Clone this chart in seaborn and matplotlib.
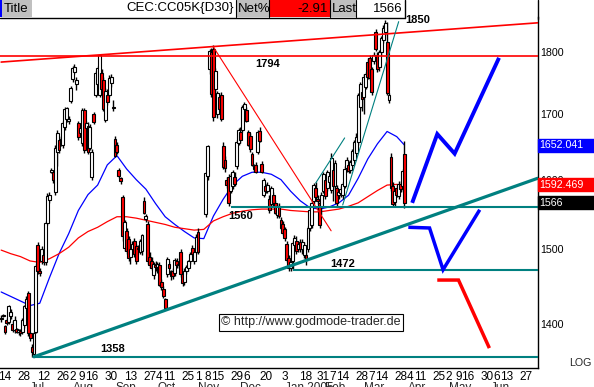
"""Cocoa CEC:CC05K daily candles with hand-drawn trend lines (GodmodeTrader style)."""
import numpy as np
import pandas as pd
import matplotlib
matplotlib.use("Agg")
import matplotlib.pyplot as plt
import matplotlib.transforms as mtransforms
from matplotlib.patches import Rectangle
from matplotlib.ticker import NullLocator
import seaborn as sns

# ---------------------------------------------------------------------------
# Data
# ---------------------------------------------------------------------------
AXIS_START = "2004-06-14"      # weekday index 0 of the chart's x axis
CANDLE_START = "2004-06-10"    # first visible bar

opens = [
    1408, 1411, 1397, 1405, 1403, 1410, 1400, 1392, 1393, 1390, 1391, 1390, 1398, 1421, 1440, 1388,
    1370, 1362, 1390, 1506, 1470, 1484, 1492, 1482, 1537, 1570, 1612, 1611, 1582, 1642, 1660, 1662,
    1652, 1680, 1692, 1690, 1721, 1757, 1768, 1748, 1686, 1670, 1655, 1706, 1678, 1682, 1648, 1604,
    1700, 1731, 1748, 1731, 1766, 1755, 1691, 1730, 1731, 1750, 1712, 1662, 1652, 1614, 1602, 1574,
    1502, 1526, 1514, 1490, 1500, 1512, 1504, 1500, 1497, 1498, 1569, 1543, 1535, 1490, 1484, 1465,
    1478, 1476, 1478, 1456, 1446, 1432, 1466, 1480, 1463, 1470, 1468, 1484, 1478, 1496, 1466, 1456,
    1470, 1474, 1484, 1502, 1484, 1496, 1524, None, None, None, 1550, 1606, 1772, 1800, 1805, 1740,
    1700, 1728, 1730, 1651, 1630, 1600, 1604, 1584, 1590, 1604, 1621, 1655, 1672, 1676, 1708, 1706,
    1672, 1666, 1638, 1620, 1622, 1642, 1674, 1624, 1577, 1590, 1584, 1572, 1564, 1577, 1566, 1548,
    1562, 1542, 1536, 1528, 1508, 1488, 1474, 1484, 1506, 1512, 1500, 1510, 1500, 1492, 1492, 1500,
    1530, 1534, 1568, 1588, 1572, 1566, 1560, 1584, 1600, 1588, 1596, 1585, 1614, 1590, 1588, 1578,
    1580, 1577, 1591, 1618, 1622, 1614, 1622, 1630, 1640, 1657, 1712, 1735, 1728, 1744, 1784, 1790,
    1772, 1786, 1834, 1796, 1776, 1800, 1820, 1835, 1818, 1723, 1634, 1590, 1567, 1588, 1576, 1594,
    1590, 1638,
]
highs = [
    1412, 1413, 1399, 1408, 1425, 1420, 1404, 1410, 1395, 1394, 1393, 1408, 1425, 1436, 1443, 1390,
    1374, 1390, 1480, 1510, 1474, 1504, 1496, 1540, 1580, 1582, 1618, 1614, 1652, 1675, 1664, 1666,
    1690, 1712, 1712, 1697, 1745, 1778, 1780, 1760, 1690, 1684, 1710, 1710, 1690, 1687, 1684, 1646,
    1704, 1770, 1778, 1798, 1772, 1760, 1742, 1740, 1762, 1764, 1722, 1666, 1656, 1618, 1604, 1578,
    1542, 1530, 1518, 1506, 1512, 1516, 1508, 1506, 1514, 1522, 1575, 1550, 1540, 1496, 1490, 1482,
    1484, 1482, 1482, 1460, 1450, 1434, 1490, 1484, 1472, 1474, 1488, 1488, 1482, 1500, 1468, 1474,
    1478, 1486, 1496, 1506, 1500, 1522, 1530, None, None, None, 1612, 1652, 1806, 1808, 1812, 1775,
    1737, 1734, 1735, 1656, 1636, 1604, 1608, 1610, 1614, 1612, 1660, 1678, 1680, 1715, 1720, 1712,
    1676, 1670, 1642, 1624, 1626, 1676, 1680, 1628, 1602, 1594, 1596, 1578, 1590, 1582, 1570, 1566,
    1566, 1546, 1540, 1532, 1512, 1492, 1486, 1512, 1520, 1518, 1512, 1514, 1514, 1510, 1496, 1533,
    1560, 1570, 1595, 1596, 1578, 1570, 1582, 1612, 1604, 1614, 1610, 1640, 1620, 1630, 1592, 1586,
    1590, 1596, 1620, 1634, 1628, 1630, 1646, 1660, 1670, 1734, 1752, 1742, 1764, 1768, 1790, 1796,
    1776, 1800, 1840, 1800, 1804, 1828, 1846, 1854, 1852, 1734, 1640, 1596, 1588, 1592, 1598, 1598,
    1616, 1659,
]
lows = [
    1403, 1409, 1387, 1398, 1400, 1406, 1390, 1388, 1388, 1386, 1384, 1387, 1395, 1418, 1385, 1378,
    1358, 1358, 1388, 1466, 1464, 1480, 1478, 1479, 1534, 1566, 1610, 1595, 1578, 1620, 1640, 1650,
    1648, 1675, 1688, 1684, 1718, 1752, 1764, 1738, 1660, 1666, 1650, 1640, 1670, 1638, 1644, 1600,
    1684, 1728, 1744, 1728, 1736, 1705, 1688, 1715, 1728, 1744, 1705, 1634, 1638, 1603, 1594, 1512,
    1498, 1494, 1484, 1480, 1496, 1490, 1480, 1496, 1494, 1492, 1550, 1538, 1480, 1474, 1472, 1460,
    1470, 1468, 1450, 1444, 1434, 1418, 1462, 1470, 1458, 1460, 1464, 1474, 1474, 1462, 1450, 1452,
    1466, 1470, 1480, 1492, 1480, 1494, 1494, None, None, None, 1546, 1600, 1765, 1728, 1690, 1735,
    1694, 1705, 1690, 1616, 1612, 1588, 1562, 1580, 1586, 1590, 1616, 1652, 1655, 1672, 1696, 1688,
    1650, 1642, 1620, 1612, 1610, 1638, 1656, 1610, 1574, 1580, 1580, 1552, 1560, 1562, 1550, 1544,
    1544, 1528, 1520, 1512, 1482, 1470, 1470, 1472, 1500, 1494, 1496, 1496, 1494, 1488, 1478, 1496,
    1526, 1530, 1565, 1570, 1564, 1530, 1548, 1580, 1572, 1584, 1590, 1580, 1568, 1586, 1560, 1572,
    1575, 1572, 1588, 1612, 1610, 1610, 1618, 1626, 1636, 1652, 1708, 1705, 1700, 1740, 1756, 1755,
    1730, 1780, 1802, 1768, 1770, 1796, 1816, 1830, 1730, 1718, 1584, 1560, 1562, 1574, 1572, 1582,
    1584, 1559,
]
closes = [
    1406, 1410, 1389, 1401, 1423, 1416, 1392, 1405, 1390, 1392, 1388, 1405, 1423, 1432, 1388, 1382,
    1364, 1388, 1477, 1470, 1467, 1501, 1482, 1537, 1576, 1577, 1615, 1599, 1648, 1671, 1645, 1654,
    1686, 1708, 1709, 1693, 1742, 1775, 1776, 1755, 1664, 1678, 1706, 1645, 1686, 1641, 1680, 1642,
    1688, 1766, 1774, 1795, 1740, 1708, 1737, 1720, 1758, 1760, 1710, 1636, 1641, 1606, 1598, 1518,
    1538, 1498, 1488, 1500, 1508, 1494, 1484, 1502, 1511, 1520, 1552, 1547, 1484, 1478, 1475, 1480,
    1476, 1480, 1452, 1448, 1437, 1421, 1487, 1474, 1470, 1463, 1486, 1478, 1480, 1466, 1454, 1470,
    1476, 1484, 1493, 1494, 1496, 1517, 1497, None, None, None, 1610, 1650, 1802, 1732, 1696, 1770,
    1734, 1708, 1692, 1619, 1618, 1592, 1566, 1606, 1611, 1594, 1657, 1675, 1660, 1711, 1716, 1690,
    1652, 1646, 1622, 1616, 1612, 1672, 1658, 1612, 1599, 1584, 1592, 1555, 1587, 1566, 1552, 1562,
    1547, 1530, 1523, 1516, 1486, 1474, 1482, 1509, 1516, 1498, 1508, 1500, 1510, 1506, 1486, 1530,
    1556, 1566, 1592, 1574, 1568, 1534, 1578, 1609, 1576, 1611, 1606, 1632, 1590, 1625, 1566, 1582,
    1586, 1593, 1616, 1630, 1613, 1626, 1643, 1656, 1665, 1730, 1748, 1724, 1760, 1764, 1760, 1758,
    1736, 1796, 1805, 1772, 1800, 1825, 1842, 1850, 1733, 1731, 1587, 1564, 1584, 1578, 1594, 1586,
    1613, 1566,
]

# moving averages, read every 5th bar plus the last one
ma_every = 5
ma_fast = [
    1442, 1436, 1430, 1424, 1427, 1461, 1494, 1522, 1555, 1578, 1592, 1622, 1636, 1616, 1600, 1586,
    1565, 1546, 1535, 1525, 1516, 1515, 1547, 1571, 1592, 1605, 1611, 1611, 1608, 1600, 1583, 1569,
    1559, 1557, 1560, 1566, 1577, 1602, 1631, 1654, 1673, 1665, 1652,
]
ma_slow = [
    1499, 1494, 1490, 1484, 1482, 1487, 1494, 1503, 1516, 1525, 1531, 1539, 1546, 1546, 1544, 1541,
    1538, 1535, 1531, 1529, 1527, 1528, 1540, 1546, 1551, 1554, 1556, 1557, 1557, 1557, 1555, 1554,
    1553, 1553, 1555, 1557, 1561, 1566, 1575, 1584, 1592, 1593, 1592,
]

# hand-drawn lines: (dates, prices)
resist_dates, resist_vals = ["2004-06-10", "2005-07-05"], [1784, 1850]
down_dates, down_vals = ["2004-11-11", "2005-02-04"], [1809, 1526]
fast_up_dates, fast_up_vals = ["2005-01-25", "2005-02-15"], [1595, 1663]
steep_up_dates, steep_up_vals = ["2005-02-14", "2005-03-25"], [1563, 1852]
support_dates, support_vals = ["2004-07-05", "2005-07-05"], [1358, 1602]
level_vals = [1560, 1472, 1358]
level_from = ["2004-11-24", "2005-01-07", "2004-07-05"]
red_level = 1794

fc_up_dates = ["2005-04-05", "2005-04-22", "2005-05-05", "2005-06-07"]
fc_up_vals = [1566, 1669, 1639, 1791]
fc_mid_dates = ["2005-04-01", "2005-04-18", "2005-04-27", "2005-05-24"]
fc_mid_vals = [1531, 1530, 1472, 1556]
fc_dn_dates = ["2005-04-22", "2005-05-09", "2005-05-31"]
fc_dn_vals = [1458, 1458, 1369]

level_text = ["1850", "1794", "1560", "1472", "1358"]
level_text_dates = ["2005-04-08", "2004-12-21", "2004-12-01", "2005-02-14", "2004-08-31"]
level_text_vals = [1855, 1781, 1547, 1480, 1368]

tag_vals = [1652.041, 1592.469, 1566]
tag_text = ["1652.041", "1592.469", "1566"]

price_ticks = [1400, 1500, 1600, 1700, 1800]
day_ticks = [
    "2004-06-14", "2004-06-28", "2004-07-12", "2004-07-26", "2004-08-02", "2004-08-09",
    "2004-08-16", "2004-08-30", "2004-09-13", "2004-09-27", "2004-10-04", "2004-10-11",
    "2004-10-25", "2004-11-01", "2004-11-08", "2004-11-15", "2004-11-29", "2004-12-06",
    "2004-12-20", "2005-01-03", "2005-01-18", "2005-01-31", "2005-02-07", "2005-02-14",
    "2005-02-28", "2005-03-07", "2005-03-14", "2005-03-28", "2005-04-04", "2005-04-11",
    "2005-04-25", "2005-05-02", "2005-05-09", "2005-05-16", "2005-05-30", "2005-06-06",
    "2005-06-13", "2005-06-27",
]
month_starts = [
    "2004-07-01", "2004-08-02", "2004-09-01", "2004-10-01", "2004-11-01", "2004-12-01",
    "2005-01-03", "2005-02-01", "2005-03-01", "2005-04-01", "2005-05-02", "2005-06-01",
]
month_names = ["Jul", "Aug", "Sep", "Oct", "Nov", "Dec", "Jan 2005", "Feb", "Mar", "Apr", "May", "Jun"]

header = [  # (x0, x1, fill, text, align)
    (0, 2, "#0000FF", "", "left"),
    (2, 32, "#C0C0C0", "Title", "left"),
    (32, 236, "white", "CEC:CC05K{D30}", "right"),
    (236, 269, "#C0C0C0", "Net%", "left"),
    (269, 330, "#FF0000", "-2.91", "right"),
    (330, 356, "#C0C0C0", "Last", "left"),
    (356, 405, "white", "1566", "right"),
]


# ---------------------------------------------------------------------------
# Helpers
# ---------------------------------------------------------------------------
def wd(dates):
    """Weekday index relative to the axis start."""
    d = np.asarray(pd.to_datetime(dates).values.astype("datetime64[D]"))
    return np.busday_count(np.datetime64(AXIS_START), d)


W, H = 594, 387
NARROW = ["Liberation Sans Narrow", "Liberation Sans", "DejaVu Sans"]
TEAL, RED, BLUE = "#008080", "#FF0000", "#0000FF"

sns.set_style("white")
plt.rcParams["font.family"] = ["Liberation Sans", "DejaVu Sans"]

fig = plt.figure(figsize=(W / 100, H / 100), dpi=100)
ax = fig.add_axes([0, 19 / H, 538 / W, 351 / H])
ax.set_yscale("log")
X_LEFT, X_RIGHT = -2.6, 276.2
ax.set_xlim(X_LEFT, X_RIGHT)
ax.set_ylim(1344, 1860)

# ---------------------------------------------------------------------------
# Moving averages
# ---------------------------------------------------------------------------
bar_dates = pd.bdate_range(CANDLE_START, periods=len(closes))
bx = wd(bar_dates)
ma_idx = list(range(0, len(closes), ma_every))
if ma_idx[-1] != len(closes) - 1:
    ma_idx.append(len(closes) - 1)
sns.lineplot(x=bx[ma_idx], y=ma_fast, color=BLUE, linewidth=0.9, ax=ax, zorder=2)
sns.lineplot(x=bx[ma_idx], y=ma_slow, color=RED, linewidth=0.9, ax=ax, zorder=2)

# ---------------------------------------------------------------------------
# Candles
# ---------------------------------------------------------------------------
o = np.array(opens, dtype=float)
hi = np.array(highs, dtype=float)
lo = np.array(lows, dtype=float)
c = np.array(closes, dtype=float)
ok = ~np.isnan(c)
up = c >= o
ax.vlines(bx[ok], lo[ok], hi[ok], color="black", linewidth=1.0, zorder=3)
ax.bar(bx[ok], np.abs(c - o)[ok], bottom=np.minimum(o, c)[ok], width=1.5,
       color=np.where(up, "white", RED)[ok], edgecolor="black", linewidth=0.8, zorder=4)

# ---------------------------------------------------------------------------
# Trend lines, levels, forecast sketch
# ---------------------------------------------------------------------------
ax.axhline(red_level, color=RED, linewidth=1.2, zorder=5)
ax.plot(wd(resist_dates), resist_vals, color=RED, linewidth=1.2, zorder=5)
ax.plot(wd(down_dates), down_vals, color=RED, linewidth=0.8, zorder=5)
ax.plot(wd(fast_up_dates), fast_up_vals, color=TEAL, linewidth=0.8, zorder=5)
ax.plot(wd(steep_up_dates), steep_up_vals, color=TEAL, linewidth=0.8, zorder=5)
ax.plot(wd(support_dates), support_vals, color=TEAL, linewidth=2.3, zorder=5)
for val, start in zip(level_vals, level_from):
    ax.hlines(val, wd([start])[0], X_RIGHT, color=TEAL, linewidth=1.5, zorder=5)

ax.plot(wd(fc_up_dates), fc_up_vals, color=BLUE, linewidth=2.8, zorder=6,
        solid_capstyle="butt", solid_joinstyle="miter")
ax.plot(wd(fc_mid_dates), fc_mid_vals, color=BLUE, linewidth=2.5, zorder=6,
        solid_capstyle="butt", solid_joinstyle="miter")
ax.plot(wd(fc_dn_dates), fc_dn_vals, color=RED, linewidth=2.5, zorder=6,
        solid_capstyle="butt", solid_joinstyle="miter")

for txt, d, v in zip(level_text, level_text_dates, level_text_vals):
    ax.text(wd([d])[0], v, txt, ha="center", va="center", fontsize=8,
            fontweight="bold", color="black", zorder=7)

ax.text(311 / 538, (368 - 322.5) / 351, "\u00a9 http://www.godmode-trader.de",
        transform=ax.transAxes, ha="center", va="center", fontsize=9, zorder=8,
        bbox=dict(boxstyle="square,pad=0.18", fc="white", ec="black", lw=0.8))

# ---------------------------------------------------------------------------
# Axes cosmetics
# ---------------------------------------------------------------------------
for side in ("left", "top"):
    ax.spines[side].set_visible(False)
for side in ("right", "bottom"):
    ax.spines[side].set_color("black")
    ax.spines[side].set_linewidth(1.0)

ax.yaxis.tick_right()
ax.set_yticks(price_ticks)
ax.set_yticklabels([str(t) for t in price_ticks])
ax.yaxis.set_minor_locator(NullLocator())
ax.tick_params(axis="y", length=0, pad=1.5, labelsize=7.7, colors="black")

ax.set_xticks(wd(day_ticks))
ax.set_xticklabels([str(pd.Timestamp(d).day) for d in day_ticks], fontfamily=NARROW)
ax.xaxis.set_minor_locator(NullLocator())
ax.tick_params(axis="x", length=0, pad=2.0, labelsize=8.5, colors="black")

xb = mtransforms.blended_transform_factory(ax.transData, ax.transAxes)
for d, name in zip(month_starts, month_names):
    ax.text(wd([d])[0], -0.039, name, transform=xb, ha="left", va="top",
            fontsize=8.5, fontfamily=NARROW, clip_on=False)

# price tags on the right scale
yb = mtransforms.blended_transform_factory(ax.transAxes, ax.transData)
half = np.exp(6.5 / 1080)
for v, txt, col in zip(tag_vals, tag_text, [BLUE, RED, "black"]):
    ax.axhspan(v / half, v * half, xmin=1.0, xmax=W / 538, color=col, clip_on=False, zorder=9)
    ax.text(1.002, v, txt, transform=yb, ha="left", va="center", color="white",
            fontsize=7.7, clip_on=False, zorder=10)

fig.text(580 / W, 1 - 363 / H, "LOG", ha="center", va="center", fontsize=7.7)

# header bar
for x0, x1, fill, txt, align in header:
    fig.add_artist(Rectangle((x0 / W, 1 - 17 / H), (x1 - x0) / W, 17 / H,
                             transform=fig.transFigure, facecolor=fill, edgecolor="none"))
    if txt:
        tx = (x0 + 1.5) / W if align == "left" else (x1 - 2) / W
        fig.text(tx, 1 - 8.5 / H, txt, ha=align, va="center", fontsize=9.5,
                 fontfamily=NARROW, color="black")
for xs in (236, 269, 330, 356):
    fig.add_artist(plt.Line2D([xs / W, xs / W], [1, 1 - 17 / H], transform=fig.transFigure,
                              color="black", linewidth=0.8))
fig.add_artist(plt.Line2D([0, 405 / W], [1 - 17.5 / H, 1 - 17.5 / H],
                          transform=fig.transFigure, color="black", linewidth=1.0))
fig.add_artist(plt.Line2D([405 / W, 405 / W], [1, 1 - 17.5 / H],
                          transform=fig.transFigure, color="black", linewidth=1.0))
fig.add_artist(plt.Line2D([538 / W, 538 / W], [1, 1 - 19 / H],
                          transform=fig.transFigure, color="black", linewidth=1.0))

fig.savefig("out.png", dpi=100)
plt.close(fig)
